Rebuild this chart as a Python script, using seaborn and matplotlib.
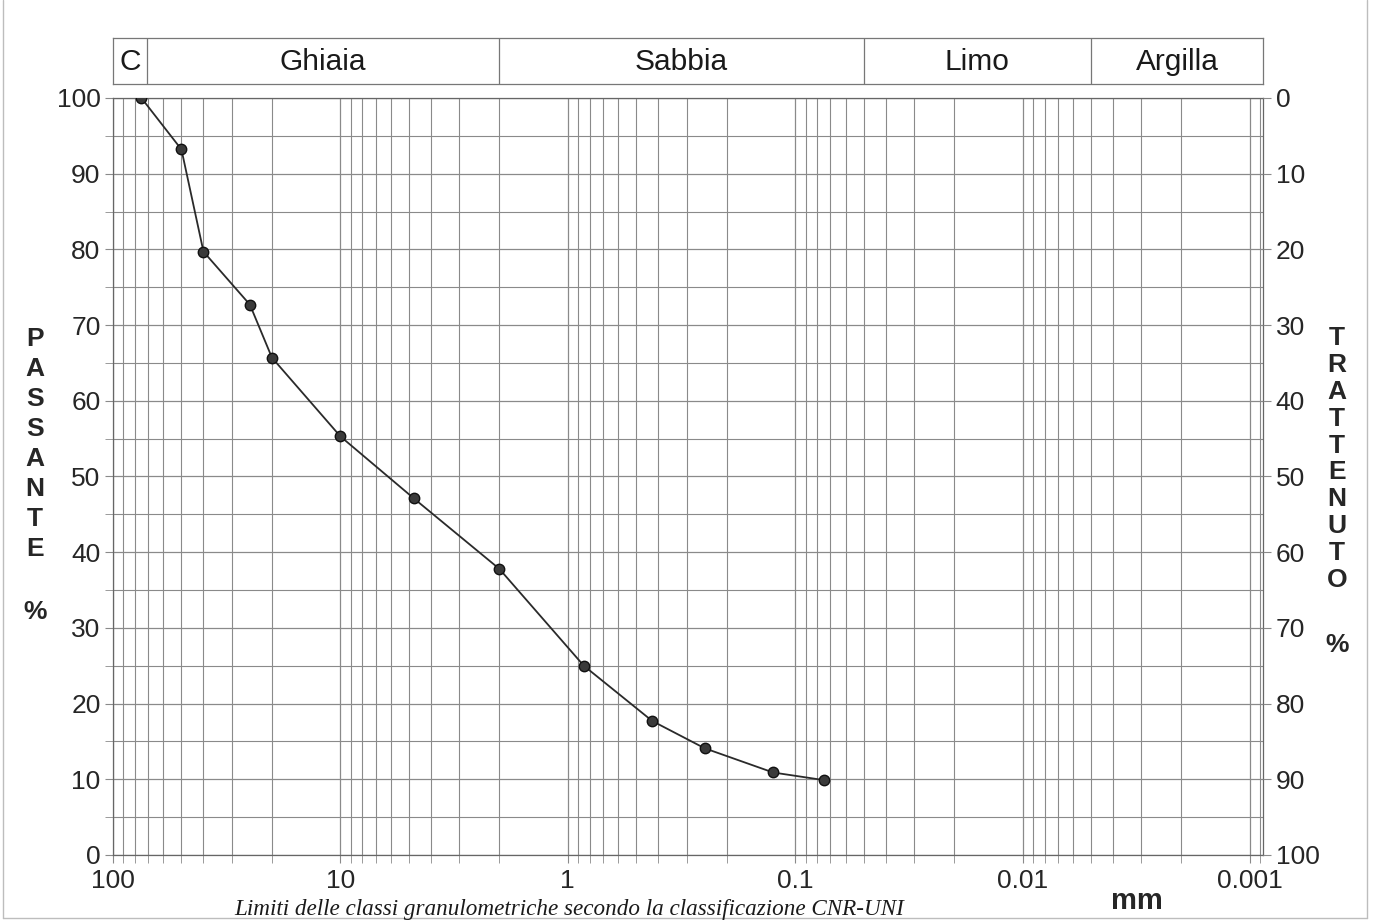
import numpy as np
import pandas as pd
import matplotlib
matplotlib.use('Agg')
import matplotlib.pyplot as plt
import seaborn as sns
from matplotlib.ticker import LogLocator, FixedLocator, NullFormatter
from matplotlib.lines import Line2D

# curva granulometrica
diametri = [75, 50, 40, 25, 20, 10, 4.75, 2, 0.85, 0.425, 0.25, 0.125, 0.075]
passante = [100, 93.2, 79.7, 72.7, 65.7, 55.3, 47.1, 37.8, 25.0, 17.7, 14.1, 10.9, 9.9]

# classi CNR-UNI
classi = ['C', 'Ghiaia', 'Sabbia', 'Limo', 'Argilla']
limiti = [71, 2, 0.05, 0.005]

x_ticks = [100, 10, 1, 0.1, 0.01, 0.001]
x_labels = ['100', '10', '1', '0.1', '0.01', '0.001']
y_ticks = list(range(0, 101, 10))

sns.set_style('white')
plt.rcParams['font.family'] = ['Liberation Sans', 'DejaVu Sans']

W, H = 1374, 923
fig = plt.figure(figsize=(W / 100, H / 100), dpi=100)
ax = fig.add_axes([113 / W, 1 - 855 / H, 1150 / W, 757 / H])

XMIN, XMAX = 100, 0.000876
grid_c = '#8a8a8a'

df = pd.DataFrame({'d': diametri, 'p': passante})
sns.lineplot(data=df, x='d', y='p', ax=ax, color='#2a2a2a', lw=1.3,
             marker='o', markersize=7.5, markerfacecolor='#3a3a3a',
             markeredgecolor='#111111', markeredgewidth=1, sort=False, zorder=5)

ax.set_xscale('log')
ax.set_xlim(XMIN, XMAX)
ax.set_ylim(0, 100)
ax.xaxis.set_major_locator(FixedLocator(x_ticks))
ax.set_xticklabels(x_labels)
ax.xaxis.set_minor_locator(LogLocator(base=10, subs=np.arange(2, 10)))
ax.xaxis.set_minor_formatter(NullFormatter())
ax.set_yticks(y_ticks)
ax.yaxis.set_minor_locator(FixedLocator(list(range(5, 100, 10))))
ax.grid(True, which='major', color=grid_c, lw=0.9)
ax.grid(True, which='minor', color=grid_c, lw=0.8)
ax.tick_params(axis='x', which='both', direction='out', length=6, color=grid_c,
               labelsize=19, pad=4, bottom=True)
ax.tick_params(axis='y', which='both', direction='out', length=6, color=grid_c,
               labelsize=19, pad=3, left=True)
ax.set_xlabel('')
ax.set_ylabel('')
for s in ax.spines.values():
    s.set_color('#666666')
    s.set_linewidth(0.9)

ax2 = ax.twinx()
ax2.set_ylim(100, 0)
ax2.set_yticks(y_ticks)
ax2.tick_params(axis='y', direction='out', length=6, color=grid_c, labelsize=19, pad=3, right=True)
for s in ax2.spines.values():
    s.set_visible(False)

# fascia classi
hax = fig.add_axes([113 / W, 1 - 84 / H, 1150 / W, 46 / H])
hax.set_xscale('log')
hax.set_xlim(XMIN, XMAX)
hax.set_ylim(0, 1)
hax.set_xticks([])
hax.set_yticks([])
hax.minorticks_off()
for s in hax.spines.values():
    s.set_color('#777777')
    s.set_linewidth(0.9)
for l in limiti:
    hax.axvline(l, color='#777777', lw=0.9)
bordi = [XMIN] + limiti + [XMAX]
for i, nome in enumerate(classi):
    hax.text(np.sqrt(bordi[i] * bordi[i + 1]), 0.48, nome, ha='center', va='center',
             fontsize=21.5, color='#1a1a1a')

fig.text(35 / W, 1 - 444 / H, 'P\nA\nS\nS\nA\nN\nT\nE', ha='center', va='center',
         multialignment='center', fontsize=19, fontweight='bold', linespacing=1.31)
fig.text(35 / W, 1 - 612 / H, '%', ha='center', va='center', fontsize=19, fontweight='bold')
fig.text(1337 / W, 1 - 459 / H, 'T\nR\nA\nT\nT\nE\nN\nU\nT\nO', ha='center', va='center',
         multialignment='center', fontsize=19, fontweight='bold', linespacing=1.15)
fig.text(1337 / W, 1 - 645 / H, '%', ha='center', va='center', fontsize=19, fontweight='bold')
fig.text(1137 / W, 1 - 901 / H, 'mm', ha='center', va='center', fontsize=21, fontweight='bold')
fig.text(569 / W, 1 - 909 / H, 'Limiti delle classi granulometriche secondo la classificazione CNR-UNI',
         ha='center', va='center', fontsize=16.7, style='italic',
         family=['Liberation Serif', 'DejaVu Serif'], color='#1a1a1a')

# bordo pagina
for seg in [([3, 3], [0, 918]), ([1367, 1367], [0, 918]), ([3, 1367], [918, 918])]:
    fig.add_artist(Line2D([x / W for x in seg[0]], [1 - y / H for y in seg[1]],
                          color='#bdbdbd', lw=1))

fig.savefig('out.png', dpi=100)
